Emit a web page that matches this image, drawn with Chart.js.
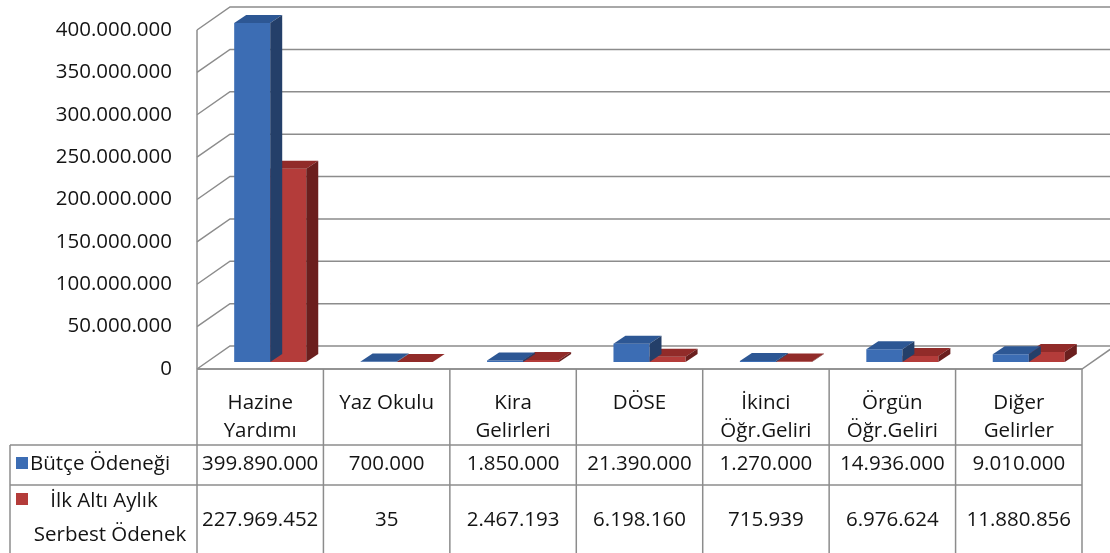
<!DOCTYPE html>
<html>
<head>
<meta charset="utf-8">
<script src="https://cdn.jsdelivr.net/npm/chart.js@4/dist/chart.umd.min.js"></script>
<style>
    html, body { margin: 0; padding: 0; background: #fff; }
    #wrap { width: 1110px; height: 553px; position: relative; }
</style>
</head>
<body>
<div id="wrap"><canvas id="butceChart"></canvas></div>
<script>
// 1. Data
const categories = [['Hazine', 'Yardımı'], ['Yaz Okulu'], ['Kira', 'Gelirleri'], ['DÖSE'], ['İkinci', 'Öğr.Geliri'], ['Örgün', 'Öğr.Geliri'], ['Diğer', 'Gelirler']];
const seriesNames = [['Bütçe Ödeneği'], ['İlk Altı Aylık', 'Serbest Ödenek']];
const butceOdenegi = [399890000, 700000, 1850000, 21390000, 1270000, 14936000, 9010000];
const serbestOdenek = [227969452, 35, 2467193, 6198160, 715939, 6976624, 11880856];
const yTickMax = 400000000;
const yTickStep = 50000000;

// 2. Look & feel
const FONT = '"Open Sans", "Noto Sans", sans-serif';
const FONT_SIZE = 20.5;
const TEXT = '#141414';
const LINE = '#8c8c8c';
const palette = [
    { front: '#3c6db4', top: '#2d5794', side: '#243f69' },
    { front: '#b43c3a', top: '#912b29', side: '#6b1f1e' }
];
const FRONT = { x: -10, y: 7 };   // front edge of floor, relative to bar plane
const BACK = { x: 23, y: -16 };   // back wall, relative to bar plane
const DEPTH = { x: 12, y: -8 };   // bar depth

function fmt(n) {
    return String(n).replace(/\B(?=(\d{3})+(?!\d))/g, '.');
}

function line(ctx, pts) {
    ctx.beginPath();
    ctx.moveTo(pts[0][0], pts[0][1]);
    for (let i = 1; i < pts.length; i++) ctx.lineTo(pts[i][0], pts[i][1]);
    ctx.stroke();
}

function poly(ctx, pts, color) {
    ctx.beginPath();
    ctx.moveTo(pts[0][0], pts[0][1]);
    for (let i = 1; i < pts.length; i++) ctx.lineTo(pts[i][0], pts[i][1]);
    ctx.closePath();
    ctx.fillStyle = color;
    ctx.fill();
}

// 3. Walls, bar depth and data table
const excel3d = {
    id: 'excel3d',
    beforeDatasetsDraw(chart) {
        const { ctx, chartArea: { left, right, bottom }, scales: { y } } = chart;
        ctx.save();
        ctx.strokeStyle = LINE;
        ctx.lineWidth = 1.5;
        for (let v = 0; v <= yTickMax; v += yTickStep) {
            const yy = y.getPixelForValue(v);
            line(ctx, [[left + FRONT.x, yy + FRONT.y], [left + BACK.x, yy + BACK.y], [chart.width, yy + BACK.y]]);
        }
        line(ctx, [[left + FRONT.x, y.getPixelForValue(yTickMax) + FRONT.y], [left + FRONT.x, bottom + FRONT.y]]);
        line(ctx, [[left + FRONT.x, bottom + FRONT.y], [right + FRONT.x, bottom + FRONT.y], [right + BACK.x, bottom + BACK.y]]);
        ctx.restore();
    },
    afterDatasetDraw(chart, args) {
        const { ctx } = chart;
        const col = palette[args.index];
        ctx.save();
        args.meta.data.forEach(bar => {
            const { x, y, base, width } = bar.getProps(['x', 'y', 'base', 'width'], true);
            const l = x - width / 2, r = x + width / 2;
            poly(ctx, [[l, y], [l + DEPTH.x, y + DEPTH.y], [r + DEPTH.x, y + DEPTH.y], [r, y]], col.top);
            poly(ctx, [[r, y], [r + DEPTH.x, y + DEPTH.y], [r + DEPTH.x, base + DEPTH.y], [r, base]], col.side);
        });
        ctx.restore();
    },
    afterDraw(chart) {
        const { ctx, chartArea: { bottom }, scales: { x } } = chart;
        const colW = x.getPixelForValue(1) - x.getPixelForValue(0);
        const x0 = x.getPixelForValue(0) - colW / 2 + FRONT.x;
        const x1 = x0 + colW * categories.length;
        const top = bottom + FRONT.y;
        const headBottom = 445, row1Bottom = 485, H = chart.height, legLeft = 10;
        const series = [butceOdenegi, serbestOdenek];

        ctx.save();
        ctx.strokeStyle = LINE;
        ctx.lineWidth = 1.5;
        line(ctx, [[x0, top], [x1, top]]);
        line(ctx, [[legLeft, headBottom], [x1, headBottom]]);
        line(ctx, [[legLeft, row1Bottom], [x1, row1Bottom]]);
        line(ctx, [[legLeft, headBottom], [legLeft, H]]);
        for (let i = 0; i <= categories.length; i++) {
            line(ctx, [[x0 + i * colW, top], [x0 + i * colW, H]]);
        }

        ctx.fillStyle = TEXT;
        ctx.font = FONT_SIZE + 'px ' + FONT;
        ctx.textAlign = 'center';
        ctx.textBaseline = 'middle';
        categories.forEach((lines, i) => {
            const cx = x0 + (i + 0.5) * colW;
            lines.forEach((t, j) => ctx.fillText(t, cx, 403 + j * 28));
            ctx.fillText(fmt(series[0][i]), cx, 464);
            ctx.fillText(fmt(series[1][i]), cx, 520);
        });

        // legend keys
        ctx.fillStyle = palette[0].front;
        ctx.fillRect(16, 457, 12, 12);
        ctx.fillStyle = palette[1].front;
        ctx.fillRect(16, 493, 12, 12);
        ctx.fillStyle = TEXT;
        ctx.textAlign = 'left';
        ctx.fillText(seriesNames[0][0], 30, 464);
        ctx.textAlign = 'center';
        ctx.fillText(seriesNames[1][0], 104, 501);
        ctx.fillText(seriesNames[1][1], 110, 535);
        ctx.restore();
    }
};

// 4. Chart
const ctx = document.getElementById('butceChart');
new Chart(ctx, {
    type: 'bar',
    data: {
        labels: categories,
        datasets: [
            { label: seriesNames[0].join(' '), data: butceOdenegi, backgroundColor: palette[0].front },
            { label: seriesNames[1].join(' '), data: serbestOdenek, backgroundColor: palette[1].front }
        ]
    },
    options: {
        responsive: true,
        maintainAspectRatio: false,
        animation: false,
        layout: { padding: { top: 23, bottom: 191, left: 0, right: 18 } },
        plugins: { legend: { display: false }, tooltip: { enabled: false } },
        datasets: { bar: { categoryPercentage: 0.57, barPercentage: 1 } },
        scales: {
            x: { display: false },
            y: {
                min: 0,
                max: yTickMax,
                grid: { display: false, drawTicks: false },
                border: { display: false },
                ticks: {
                    stepSize: yTickStep,
                    padding: 35,
                    labelOffset: 7,
                    color: TEXT,
                    font: { family: FONT, size: FONT_SIZE },
                    callback: v => fmt(v)
                },
                afterFit: scale => {
                    scale.width = 207;
                    scale.paddingTop = 0;
                    scale.paddingBottom = 0;
                }
            }
        }
    },
    plugins: [excel3d]
});
</script>
</body>
</html>
